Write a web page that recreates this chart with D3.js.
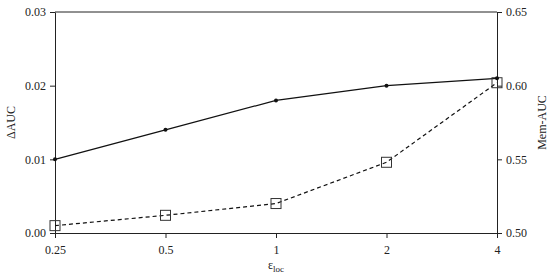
<!DOCTYPE html>
<html>
<head>
<meta charset="utf-8">
<style>
    body { margin: 0; background: #fff; }
    svg { display: block; font-family: 'Liberation Serif', 'DejaVu Serif', serif; }
</style>
</head>
<body>
<svg width="550" height="279"></svg>
<script src="https://d3js.org/d3.v7.min.js"></script>
<script>
// data
let epsLoc = [0.25, 0.5, 1, 2, 4];
let deltaAUC = [0.010, 0.014, 0.018, 0.020, 0.021];
let memAUC = [0.505, 0.512, 0.520, 0.548, 0.602];
let leftTicks = [0, 0.01, 0.02, 0.03];
let rightTicks = [0.50, 0.55, 0.60, 0.65];

let svg = d3.select("svg");
let margins = {top: 12, right: 53, bottom: 46, left: 55};
let width = 550, height = 279;

// scales
let x = d3.scaleLog().base(2)
    .domain([0.25, 4])
    .range([margins.left, width - margins.right]);

let yL = d3.scaleLinear()
    .domain([0, 0.03])
    .range([height - margins.bottom, margins.top]);

let yR = d3.scaleLinear()
    .domain([0.50, 0.65])
    .range([height - margins.bottom, margins.top]);

// frame top line
svg.append("line")
    .attr("x1", margins.left).attr("x2", width - margins.right)
    .attr("y1", margins.top).attr("y2", margins.top)
    .attr("stroke", "#222").attr("stroke-width", 1);

// axes
let xAxis = svg.append("g")
    .attr("transform", `translate(0,${height - margins.bottom})`)
    .call(d3.axisBottom(x).tickValues(epsLoc).tickFormat(d => d).tickSize(5).tickSizeOuter(0).tickPadding(7));

let leftAxis = svg.append("g")
    .attr("transform", `translate(${margins.left},0)`)
    .call(d3.axisLeft(yL).tickValues(leftTicks).tickFormat(d3.format(".2f")).tickSize(5).tickSizeOuter(0).tickPadding(4));

let rightAxis = svg.append("g")
    .attr("transform", `translate(${width - margins.right},0)`)
    .call(d3.axisRight(yR).tickValues(rightTicks).tickFormat(d3.format(".2f")).tickSize(5).tickSizeOuter(0).tickPadding(4));

svg.selectAll(".domain").attr("stroke", "#222");
svg.selectAll(".tick line").attr("stroke", "#222");
svg.selectAll(".tick text")
    .attr("font-family", "'Liberation Serif', serif")
    .attr("font-size", 12)
    .attr("fill", "#222");

// axis titles
svg.append("text")
    .attr("transform", `translate(15,${(margins.top + height - margins.bottom) / 2}) rotate(-90)`)
    .attr("text-anchor", "middle")
    .attr("font-size", 12)
    .attr("fill", "#222")
    .text("ΔAUC");

svg.append("text")
    .attr("transform", `translate(546,${(margins.top + height - margins.bottom) / 2}) rotate(-90)`)
    .attr("text-anchor", "middle")
    .attr("font-size", 12)
    .attr("fill", "#222")
    .text("Mem-AUC");

let xt = svg.append("text")
    .attr("x", x(1))
    .attr("y", 269)
    .attr("text-anchor", "middle")
    .attr("font-size", 12)
    .attr("fill", "#222");
xt.append("tspan").text("ε");
xt.append("tspan").attr("font-size", 9).attr("dy", 3).text("loc");

// lines
let solidData = epsLoc.map((e, i) => ({e: e, v: deltaAUC[i]}));
let dashData = epsLoc.map((e, i) => ({e: e, v: memAUC[i]}));

svg.append("path")
    .datum(dashData)
    .attr("d", d3.line().x(d => x(d.e)).y(d => yR(d.v)))
    .attr("fill", "none")
    .attr("stroke", "#111")
    .attr("stroke-width", 1.2)
    .attr("stroke-dasharray", "4,3");

svg.append("path")
    .datum(solidData)
    .attr("d", d3.line().x(d => x(d.e)).y(d => yL(d.v)))
    .attr("fill", "none")
    .attr("stroke", "#111")
    .attr("stroke-width", 1.2);

// markers
svg.append("g")
    .selectAll("rect")
    .data(dashData)
    .join("rect")
    .attr("x", d => x(d.e) - 5)
    .attr("y", d => yR(d.v) - 5)
    .attr("width", 10)
    .attr("height", 10)
    .attr("fill", "none")
    .attr("stroke", "#333")
    .attr("stroke-width", 1);

svg.append("g")
    .selectAll("circle")
    .data(solidData)
    .join("circle")
    .attr("cx", d => x(d.e))
    .attr("cy", d => yL(d.v))
    .attr("r", 2)
    .attr("fill", "#111");
</script>
</body>
</html>
